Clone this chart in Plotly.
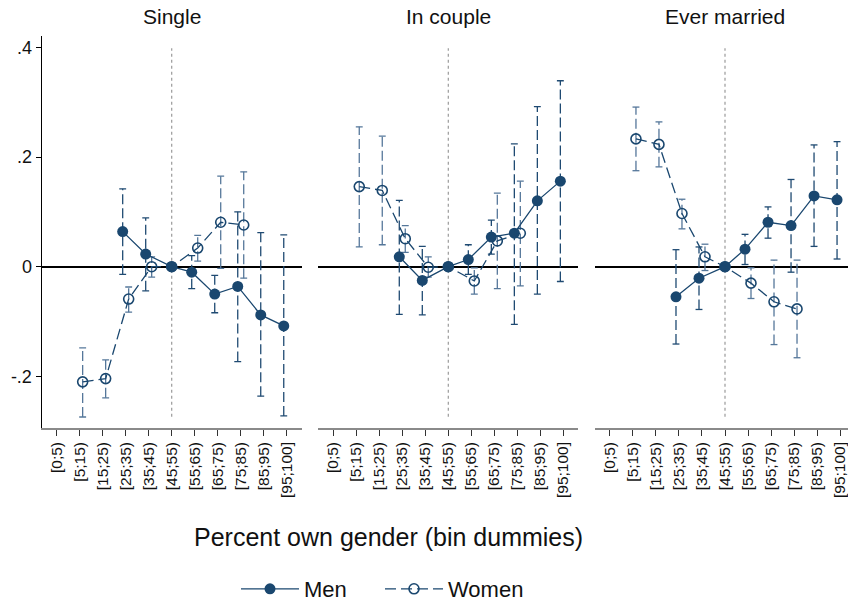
import plotly.graph_objects as go

# Bins of the share of own gender (bin dummies); [45;55) is the reference bin
bins = ["[0;5)", "[5;15)", "[15;25)", "[25;35)", "[35;45)", "[45;55)",
        "[55;65)", "[65;75)", "[75;85)", "[85;95)", "[95;100]"]
panel_titles = ["Single", "In couple", "Ever married"]
ref_bin = 5

# Single
single_men = [None, None, None, 0.064, 0.023, 0.0, -0.010, -0.050, -0.036, -0.088, -0.108]
single_men_lo = [None, None, None, -0.014, -0.044, None, -0.040, -0.084, -0.173, -0.236, -0.272]
single_men_hi = [None, None, None, 0.142, 0.089, None, 0.020, -0.016, 0.100, 0.062, 0.058]
single_women = [None, -0.210, -0.204, -0.059, 0.000, 0.0, 0.034, 0.081, 0.076, None, None]
single_women_lo = [None, -0.274, -0.239, -0.083, -0.019, None, 0.010, -0.003, -0.021, None, None]
single_women_hi = [None, -0.148, -0.170, -0.037, 0.018, None, 0.057, 0.165, 0.173, None, None]

# In couple
couple_men = [None, None, None, 0.018, -0.025, 0.0, 0.013, 0.054, 0.061, 0.120, 0.156]
couple_men_lo = [None, None, None, -0.087, -0.088, None, -0.014, 0.023, -0.105, -0.050, -0.027]
couple_men_hi = [None, None, None, 0.121, 0.037, None, 0.040, 0.085, 0.224, 0.292, 0.339]
couple_women = [None, 0.146, 0.139, 0.051, -0.001, 0.0, -0.026, 0.047, 0.061, None, None]
couple_women_lo = [None, 0.036, 0.040, 0.026, -0.019, None, -0.050, -0.040, -0.035, None, None]
couple_women_hi = [None, 0.255, 0.238, 0.075, 0.018, None, -0.002, 0.134, 0.156, None, None]

# Ever married
married_men = [None, None, None, -0.055, -0.021, 0.0, 0.032, 0.081, 0.075, 0.129, 0.122]
married_men_lo = [None, None, None, -0.141, -0.078, None, 0.004, 0.052, -0.010, 0.037, 0.014]
married_men_hi = [None, None, None, 0.031, 0.036, None, 0.059, 0.109, 0.159, 0.222, 0.228]
married_women = [None, 0.233, 0.223, 0.097, 0.018, 0.0, -0.030, -0.064, -0.077, None, None]
married_women_lo = [None, 0.175, 0.182, 0.069, -0.007, None, -0.058, -0.142, -0.166, None, None]
married_women_hi = [None, 0.291, 0.264, 0.123, 0.041, None, -0.002, 0.012, 0.012, None, None]

y_tickvals = [-0.2, 0.0, 0.2, 0.4]
y_ticktext = ["-.2", "0", ".2", ".4"]

panels = [
    (single_men, single_men_lo, single_men_hi, single_women, single_women_lo, single_women_hi),
    (couple_men, couple_men_lo, couple_men_hi, couple_women, couple_women_lo, couple_women_hi),
    (married_men, married_men_lo, married_men_hi, married_women, married_women_lo, married_women_hi),
]

NAVY = "#1a476f"
CI_MEN = "#1f4a72"
CI_WOMEN = "#55779a"
FONT = "Liberation Sans, Arial, Helvetica, sans-serif"
W, H = 848, 601

DODGE = 0.13      # horizontal shift of men/women estimates within a bin
CAP = 0.15        # half width of the CI caps (in bin units)

# panel geometry in pixels
panel_left = [41.7, 318.3, 595.0]
panel_px = 260.0
plot_top, plot_bottom = 36.0, 428.0
x_lo = -0.65
unit_px = panel_px / 11.3


def positions(values, shift):
    return [None if v is None else (i if i == ref_bin else i + shift)
            for i, v in enumerate(values)]


def ci_paths(xs, lo, hi):
    vx, vy, cx, cy = [], [], [], []
    for x, a, b in zip(xs, lo, hi):
        if x is None or a is None or b is None:
            continue
        vx += [x, x, None]
        vy += [a, b, None]
        for end in (a, b):
            cx += [x - CAP, x + CAP, None]
            cy += [end, end, None]
    return vx, vy, cx, cy


fig = go.Figure()
shapes, annotations = [], []

for p, (m, mlo, mhi, w, wlo, whi) in enumerate(panels):
    suffix = "" if p == 0 else str(p + 1)
    xa, ya = "x" + suffix, "y" + suffix
    xm = positions(m, -DODGE)
    xw = positions(w, DODGE)

    for xs, lo, hi, col in ((xm, mlo, mhi, CI_MEN), (xw, wlo, whi, CI_WOMEN)):
        vx, vy, cx, cy = ci_paths(xs, lo, hi)
        fig.add_trace(go.Scatter(x=vx, y=vy, mode="lines", xaxis=xa, yaxis=ya,
                                 line=dict(color=col, width=1.3, dash="10px,4px"),
                                 showlegend=False, hoverinfo="skip"))
        fig.add_trace(go.Scatter(x=cx, y=cy, mode="lines", xaxis=xa, yaxis=ya,
                                 line=dict(color=col, width=1.3),
                                 showlegend=False, hoverinfo="skip"))

    fig.add_trace(go.Scatter(
        x=xm, y=m, mode="lines+markers", name="Men", legendgroup="men",
        showlegend=(p == 0), xaxis=xa, yaxis=ya,
        line=dict(color=NAVY, width=1.3),
        marker=dict(symbol="circle", size=11, color=NAVY)))
    fig.add_trace(go.Scatter(
        x=xw, y=w, mode="lines+markers", name="Women", legendgroup="women",
        showlegend=(p == 0), xaxis=xa, yaxis=ya,
        line=dict(color=NAVY, width=1.3, dash="11px,5px"),
        marker=dict(symbol="circle-open", size=10, color=NAVY,
                    line=dict(width=1.6, color=NAVY))))

    left = panel_left[p]
    right = min(left + panel_px, W)
    x_hi = x_lo + (right - left) / unit_px
    dom = [left / W, right / W]

    fig.update_layout(**{
        "xaxis" + suffix: dict(
            domain=dom, range=[x_lo, x_hi], tickmode="array",
            tickvals=list(range(len(bins))), ticktext=bins, tickangle=-90,
            ticks="outside", ticklen=6, tickwidth=1.2, tickcolor="#333333",
            showline=True, linecolor="#8a8a8a", linewidth=1.6,
            showgrid=False, zeroline=False, anchor=ya, automargin=False,
            ticklabeloverflow="allow",
            tickfont=dict(family=FONT, size=15.5, color="#111111")),
        "yaxis" + suffix: dict(
            domain=[1 - plot_bottom / H, 1 - plot_top / H],
            range=[-0.2941, 0.4206], anchor=xa,
            showgrid=False, zeroline=True, zerolinecolor="#000000", zerolinewidth=1.8,
            showline=(p == 0), linecolor="#000000", linewidth=1.4,
            ticks="outside" if p == 0 else "", ticklen=5, tickcolor="#000000",
            tickmode="array", tickvals=y_tickvals, ticktext=y_ticktext,
            showticklabels=(p == 0), automargin=False,
            tickfont=dict(family=FONT, size=18, color="#111111")),
    })

    # reference bin marker
    shapes.append(dict(type="line", xref=xa, yref=ya + " domain",
                       x0=ref_bin, x1=ref_bin, y0=0.029, y1=0.969,
                       line=dict(color="#9a9a9a", width=1.2, dash="dot"), layer="below"))

    annotations.append(dict(text=panel_titles[p], x=(left + panel_px / 2) / W, y=1 - 17 / H,
                            xref="paper", yref="paper", showarrow=False,
                            xanchor="center", yanchor="middle",
                            font=dict(family=FONT, size=21, color="#111111")))

annotations.append(dict(text="Percent own gender (bin dummies)", x=388 / W, y=1 - 537 / H,
                        xref="paper", yref="paper", showarrow=False,
                        xanchor="center", yanchor="middle",
                        font=dict(family=FONT, size=25, color="#111111")))

fig.update_layout(
    width=W, height=H,
    margin=dict(l=0, r=0, t=0, b=0, autoexpand=False),
    paper_bgcolor="white", plot_bgcolor="white",
    shapes=shapes, annotations=annotations,
    legend=dict(orientation="h", x=236 / W, y=1 - 589 / H, xanchor="left", yanchor="middle",
                font=dict(family=FONT, size=22, color="#111111"),
                itemwidth=58, entrywidth=71, entrywidthmode="pixels",
                bgcolor="rgba(0,0,0,0)", tracegroupgap=0),
)

fig.write_html("out.html")
